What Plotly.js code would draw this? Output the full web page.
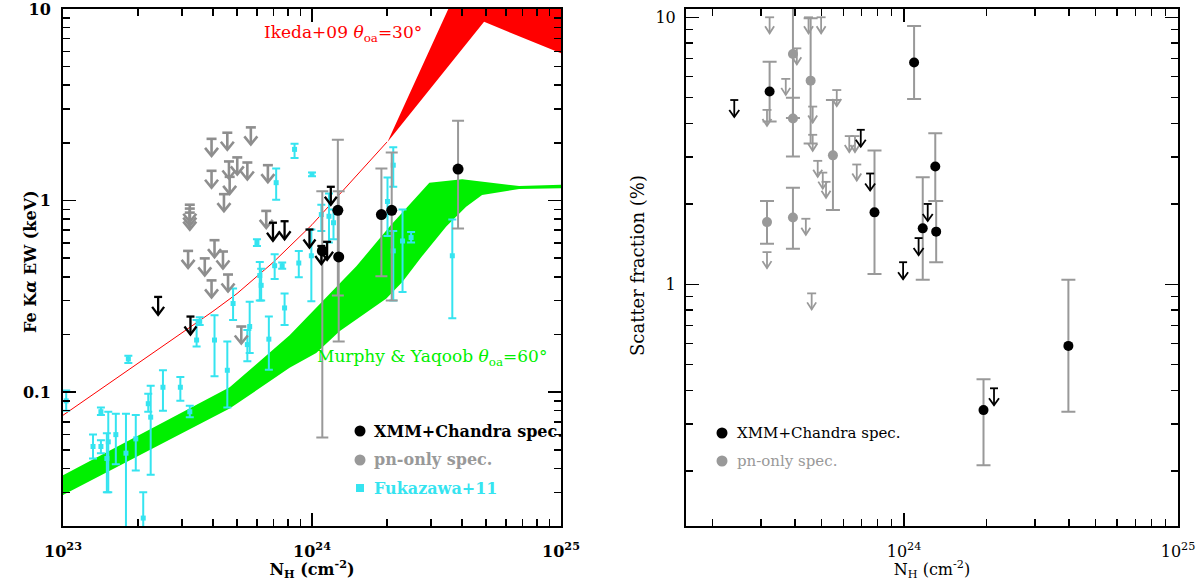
<!DOCTYPE html>
<html>
<head>
<meta charset="utf-8">
<script src="https://cdn.plot.ly/plotly-3.0.1.min.js"></script>
<style>
  html, body { margin: 0; padding: 0; background: #fff; }
  #chart { width: 1200px; height: 581px; }
</style>
</head>
<body>
<div id="chart"></div>
<script>
/* =============================================
   Fe K-alpha EW and scatter fraction vs N_H
   ============================================= */

// ── Left panel: model bands ───────────────────
// Ikeda+09 (theta_oa = 30 deg): thin line, then a band above 2e24
const ikedaLineN  = [1e23, 2e23, 3e23, 4e23, 5e23, 7e23, 1e24, 1.5e24, 2e24];
const ikedaLineEW = [0.0757, 0.141, 0.203, 0.264, 0.327, 0.477, 0.748, 1.33, 2.02];
const ikedaUpN    = [2.01e24, 3.5e24, 5e24, 1e25];
const ikedaUpEW   = [2.02, 10.0, 27, 20];
const ikedaLowN   = [2.01e24, 4.91e24, 1e25];
const ikedaLowEW  = [2.02, 8.57, 5.87];

// Murphy & Yaqoob (theta_oa = 60 deg) band
const myUpN   = [1e23, 4.67e23, 8.13e23, 1.10e24, 1.51e24, 2.05e24, 2.96e24, 4.01e24, 6.79e24, 1e25];
const myUpEW  = [0.0368, 0.106, 0.198, 0.297, 0.455, 0.733, 1.24, 1.29, 1.19, 1.21];
const myLowN  = [1e23, 4.67e23, 8.13e23, 1.04e24, 1.29e24, 1.99e24, 2.31e24, 2.77e24, 3.46e24, 4.16e24, 4.82e24, 6.79e24, 1e25];
const myLowEW = [0.0290, 0.0820, 0.134, 0.160, 0.208, 0.308, 0.377, 0.513, 0.733, 0.929, 1.07, 1.15, 1.16];

// ── Left panel: Fukazawa+11 ───────────────────
const fukN  = [1.03e23, 1.32e23, 1.42e23, 1.42e23, 1.52e23, 1.50e23, 1.63e23, 1.79e23, 1.83e23, 1.96e23,
               2.10e23, 2.20e23, 2.25e23, 2.52e23, 2.96e23, 3.23e23, 3.44e23, 3.54e23, 4.06e23, 4.57e23,
               4.82e23, 5.62e23, 5.50e23, 6.71e23, 7.76e23, 6.17e23, 6.25e23, 6.01e23, 7.08e23, 7.59e23,
               8.85e23, 7.18e23, 8.51e23, 1.00e24, 9.94e23, 1.09e24, 1.17e24, 1.22e24, 2.12e24, 2.01e24,
               2.12e24, 2.31e24, 2.50e24, 3.66e24];
const fukEW = [0.090, 0.052, 0.052, 0.079, 0.055, 0.045, 0.060, 0.048, 0.149, 0.057,
               0.022, 0.087, 0.074, 0.106, 0.106, 0.079, 0.187, 0.234, 0.187, 0.130,
               0.290, 0.220, 0.177, 0.189, 0.275, 0.406, 0.361, 0.604, 0.457, 0.457,
               0.472, 1.24, 1.85, 1.37, 0.515, 0.845, 0.828, 0.766, 1.53, 0.989,
               0.546, 0.615, 0.641, 0.515];
const fukLo = [0.080, 0.045, 0.048, 0.076, 0.030, 0.030, 0.042, 0.015, 0.142, 0.039,
               0.015, 0.079, 0.037, 0.080, 0.090, 0.074, 0.173, 0.224, 0.121, 0.083,
               0.238, 0.160, 0.145, 0.131, 0.224, 0.301, 0.301, 0.579, 0.390, 0.440,
               0.398, 1.01, 1.67, 1.34, 0.298, 0.693, 0.604, 0.628, 1.18, 0.653,
               0.301, 0.333, 0.604, 0.243];
const fukHi = [0.102, 0.060, 0.056, 0.083, 0.079, 0.061, 0.077, 0.077, 0.155, 0.076,
               0.030, 0.098, 0.108, 0.130, 0.120, 0.085, 0.238, 0.246, 0.252, 0.184,
               0.347, 0.296, 0.211, 0.248, 0.327, 0.478, 0.440, 0.628, 0.525, 0.475,
               0.546, 1.47, 1.98, 1.40, 0.706, 0.951, 1.09, 0.897, 1.90, 1.32,
               0.693, 0.897, 0.685, 0.796];

// ── Left panel: this work ─────────────────────
const ewDetN  = [1.27e24, 1.28e24, 1.10e24, 1.90e24, 2.09e24, 3.86e24];
const ewDetEW = [0.889, 0.508, 0.546, 0.845, 0.889, 1.46];
const ewDetLo = [0.319, 0.184, 0.058, 0.403, 0.301, 0.714];
const ewDetHi = [2.08, 1.12, 1.12, 1.47, 1.78, 2.61];

const ewUlN  = [2.41e23, 3.25e23, 6.97e23, 7.76e23, 9.77e23, 1.09e24, 1.15e24, 1.19e24];
const ewUlEW = [0.314, 0.248, 0.766, 0.780, 0.706, 0.579, 0.609, 1.18];

const ewPnUlN  = [3.95e23, 4.57e23, 5.68e23, 3.95e23, 4.64e23, 5.01e23, 5.50e23, 4.67e23, 6.65e23, 4.43e23,
                  3.23e23, 3.23e23, 3.23e23, 3.18e23, 4.06e23, 3.71e23, 4.39e23, 3.95e23, 4.60e23, 6.55e23,
                  5.20e23];
const ewPnUlEW = [2.10, 2.26, 2.41, 1.43, 1.60, 1.68, 1.58, 1.33, 1.53, 1.08,
                  0.951, 0.908, 0.865, 0.546, 0.621, 0.499, 0.542, 0.383, 0.411, 0.883,
                  0.220];

// ── Right panel: scatter fraction (%) ─────────
const sfDetN  = [3.23e23, 7.80e23, 1.088e24, 1.17e24, 1.30e24, 1.31e24, 1.95e24, 3.98e24];
const sfDetF  = [5.27, 1.86, 6.77, 1.62, 2.76, 1.575, 0.338, 0.588];
const sfDetLo = [4.07, 1.093, 4.94, 1.04, 2.05, 1.21, 0.21, 0.333];
const sfDetHi = [6.82, 3.17, 9.28, 2.52, 3.68, 2.05, 0.441, 1.04];

const sfUlN = [2.40e23, 6.95e23, 7.52e23, 1.22e24, 1.13e24, 9.92e23, 2.13e24];
const sfUlF = [4.90, 3.79, 2.60, 2.00, 1.49, 1.21, 0.408];

const sfPnN  = [3.16e23, 3.93e23, 3.93e23, 4.56e23, 5.50e23, 3.93e23];
const sfPnF  = [1.71, 7.29, 4.18, 5.79, 3.04, 1.78];
const sfPnLo = [1.42, 4.2, 3.01, 3.37, 1.90, 1.36];
const sfPnHi = [2.05, 14, 5.0, 9.92, 4.90, 2.30];

const sfPnUlN = [3.23e23, 4.48e23, 4.98e23, 4.06e23, 3.70e23, 3.16e23, 4.64e23, 4.64e23, 5.68e23,
                 6.31e23, 6.62e23, 6.72e23, 4.84e23, 5.05e23, 5.19e23, 3.16e23, 4.38e23, 4.60e23];
const sfPnUlF = [10.0, 10.0, 10.0, 7.65, 5.88, 4.50, 4.63, 3.63, 5.34,
                 3.59, 3.59, 2.81, 2.90, 2.62, 2.42, 1.32, 1.76, 0.925];

// ── Frame geometry ────────────────────────────
const W = 1200, H = 581;
const TOP = 9, BOT = 526;
const LEFT = { x0: 63, x1: 561, xr: [23, 25], yr: [Math.log10(0.02), 1] };
const RIGHT = { x0: 686, x1: 1178, xr: [23.204, 25], yr: [-0.905, 1.031] };
const SERIF = "DejaVu Serif";
const RED = "#ff0000", GREEN = "#00f000", CYAN = "#35e4f0";
const GREY = "#999999", GREY_ARROW = "#8e8e8e";

const px = (x) => x / W;
const py = (y) => 1 - y / H;
const pxPerDex = (p) => ({
  kx: (p.x1 - p.x0) / (p.xr[1] - p.xr[0]),
  ky: (BOT - TOP) / (p.yr[1] - p.yr[0]),
});

// ── Helpers ───────────────────────────────────
function band(upN, upY, lowN, lowY, color, xa, ya) {
  return {
    type: "scatter", mode: "lines", xaxis: xa, yaxis: ya,
    x: upN.concat(lowN.slice().reverse()),
    y: upY.concat(lowY.slice().reverse()),
    fill: "toself", fillcolor: color,
    line: { width: 0, color },
    hoverinfo: "skip", showlegend: false,
  };
}

// downward arrow with a bar on top, sizes in px
function upperLimits(xs, ys, panel, xa, ya, s) {
  const k = pxPerDex(panel);
  const x = [], y = [];
  xs.forEach((xv, i) => {
    const lx = Math.log10(xv), ly = Math.log10(ys[i]);
    const X = (d) => Math.pow(10, lx + d / k.kx);
    const Y = (d) => Math.pow(10, ly - d / k.ky);
    x.push(X(-s.cap), X(s.cap), null, xv, xv, null, X(-s.head), xv, X(s.head), null);
    y.push(ys[i], ys[i], null, ys[i], Y(s.len), null,
           Y(s.len - s.headH), Y(s.len), Y(s.len - s.headH), null);
  });
  return {
    type: "scatter", mode: "lines", xaxis: xa, yaxis: ya, x, y,
    line: { color: s.color, width: s.width },
    hoverinfo: "skip", showlegend: false,
  };
}

function withErrors(xs, ys, lo, hi, xa, ya, marker, err) {
  return {
    type: "scatter", mode: "markers", xaxis: xa, yaxis: ya, x: xs, y: ys,
    marker,
    error_y: {
      type: "data", symmetric: false, visible: true,
      array: ys.map((v, i) => hi[i] - v),
      arrayminus: ys.map((v, i) => v - lo[i]),
      color: err.color, thickness: err.thickness, width: err.width,
    },
    hoverinfo: "x+y", showlegend: false,
  };
}

function minorTicks(d0, d1) {
  const out = [];
  for (let d = d0; d < d1; d++) for (let m = 2; m <= 9; m++) out.push(m * Math.pow(10, d));
  return out;
}

function frameAxis(extra) {
  return Object.assign({
    type: "log", showline: true, linecolor: "#000", linewidth: 2,
    mirror: "allticks", ticks: "inside", ticklen: 13, tickwidth: 1.5,
    tickcolor: "#000", showgrid: false, zeroline: false, tickmode: "array",
    ticklabeloverflow: "allow",
  }, extra);
}

// ── Traces ────────────────────────────────────
const traces = [
  band(myUpN, myUpEW, myLowN, myLowEW, GREEN, "x", "y"),
  band(ikedaUpN, ikedaUpEW, ikedaLowN, ikedaLowEW, RED, "x", "y"),
  {
    type: "scatter", mode: "lines", x: ikedaLineN, y: ikedaLineEW,
    line: { color: RED, width: 1 }, hoverinfo: "skip", showlegend: false,
  },
  withErrors(fukN, fukEW, fukLo, fukHi, "x", "y",
    { symbol: "square", size: 5, color: CYAN },
    { color: CYAN, thickness: 2, width: 4 }),
  upperLimits(ewPnUlN, ewPnUlEW, LEFT, "x", "y",
    { cap: 5, len: 17, head: 6.5, headH: 8, color: GREY_ARROW, width: 2.6 }),
  withErrors(ewDetN, ewDetEW, ewDetLo, ewDetHi, "x", "y",
    { symbol: "circle", size: 11, color: "#000" },
    { color: GREY, thickness: 2, width: 6 }),
  upperLimits(ewUlN, ewUlEW, LEFT, "x", "y",
    { cap: 4, len: 18, head: 6, headH: 8, color: "#000", width: 2.3 }),

  withErrors(sfPnN, sfPnF, sfPnLo, sfPnHi, "x2", "y2",
    { symbol: "circle", size: 10, color: GREY },
    { color: GREY, thickness: 2, width: 7 }),
  upperLimits(sfPnUlN, sfPnUlF, RIGHT, "x2", "y2",
    { cap: 4.5, len: 16, head: 4.5, headH: 7, color: GREY, width: 1.8 }),
  withErrors(sfDetN, sfDetF, sfDetLo, sfDetHi, "x2", "y2",
    { symbol: "circle", size: 10, color: "#000" },
    { color: GREY, thickness: 2, width: 7 }),
  upperLimits(sfUlN, sfUlF, RIGHT, "x2", "y2",
    { cap: 4, len: 17, head: 5, headH: 7, color: "#000", width: 1.8 }),
];

// ── Layout ────────────────────────────────────
const boldFont = { family: SERIF, size: 16, color: "#000", weight: "bold" };
const plainFont = { family: SERIF, size: 16, color: "#000" };
const yDomain = [py(BOT), py(TOP)];

const layout = {
  width: W, height: H,
  margin: { l: 0, r: 0, t: 0, b: 0 },
  paper_bgcolor: "#fff", plot_bgcolor: "#fff",
  showlegend: false,
  xaxis: frameAxis({
    domain: [px(LEFT.x0), px(LEFT.x1)], range: LEFT.xr, anchor: "y",
    tickvals: [1e23, 1e24, 1e25],
    ticktext: ["10<sup>23</sup>", "10<sup>24</sup>", "10<sup>25</sup>"],
    minor: { ticks: "inside", ticklen: 7, tickwidth: 1.5, tickcolor: "#000",
             tickmode: "array", tickvals: minorTicks(23, 25) },
    tickfont: boldFont, ticklabelstandoff: 10,
    title: { text: "N<sub>H</sub> (cm<sup>-2</sup>)", font: boldFont, standoff: 4 },
  }),
  yaxis: frameAxis({
    domain: yDomain, range: LEFT.yr, anchor: "x",
    tickvals: [0.1, 1, 10], ticktext: ["0.1", "1", "10"],
    minor: { ticks: "inside", ticklen: 7, tickwidth: 1.5, tickcolor: "#000",
             tickmode: "array", tickvals: minorTicks(-2, 1) },
    tickfont: boldFont, ticklabelstandoff: 7,
  }),
  xaxis2: frameAxis({
    domain: [px(RIGHT.x0), px(RIGHT.x1)], range: RIGHT.xr, anchor: "y2",
    tickvals: [1e24, 1e25],
    ticktext: ["10<sup>24</sup>", "10<sup>25</sup>"],
    minor: { ticks: "inside", ticklen: 7, tickwidth: 1.5, tickcolor: "#000",
             tickmode: "array", tickvals: minorTicks(23, 25) },
    tickfont: plainFont, ticklabelstandoff: 10,
    title: { text: "N<sub>H</sub> (cm<sup>-2</sup>)", font: plainFont, standoff: 4 },
  }),
  yaxis2: frameAxis({
    domain: yDomain, range: RIGHT.yr, anchor: "x2",
    tickvals: [1, 10], ticktext: ["1", "10"],
    minor: { ticks: "inside", ticklen: 7, tickwidth: 1.5, tickcolor: "#000",
             tickmode: "array", tickvals: minorTicks(-1, 1) },
    tickfont: plainFont, ticklabelstandoff: 5,
  }),
  annotations: [
    // y axis titles
    { text: "Fe K<i>α</i> EW (keV)", xref: "paper", yref: "paper",
      x: px(30), y: py(262), xanchor: "center", yanchor: "middle",
      textangle: -90, showarrow: false, font: boldFont },
    { text: "Scatter fraction (%)", xref: "paper", yref: "paper",
      x: px(638), y: py(266), xanchor: "center", yanchor: "middle",
      textangle: -90, showarrow: false,
      font: { family: SERIF, size: 18, color: "#000" } },
    // model labels
    { text: "Ikeda+09 <i>θ</i><sub>oa</sub>=30°", xref: "paper", yref: "paper",
      x: px(262), y: py(33), xanchor: "left", yanchor: "middle", showarrow: false,
      font: { family: SERIF, size: 17, color: RED } },
    { text: "Murphy & Yaqoob <i>θ</i><sub>oa</sub>=60°", xref: "paper", yref: "paper",
      x: px(315), y: py(357), xanchor: "left", yanchor: "middle", showarrow: false,
      font: { family: SERIF, size: 17, color: GREEN } },
    // left legend
    { text: "XMM+Chandra spec.", xref: "paper", yref: "paper",
      x: px(372), y: py(431), xanchor: "left", yanchor: "middle", showarrow: false, font: boldFont },
    { text: "pn-only spec.", xref: "paper", yref: "paper",
      x: px(372), y: py(460), xanchor: "left", yanchor: "middle", showarrow: false,
      font: Object.assign({}, boldFont, { color: GREY }) },
    { text: "Fukazawa+11", xref: "paper", yref: "paper",
      x: px(372), y: py(488), xanchor: "left", yanchor: "middle", showarrow: false,
      font: Object.assign({}, boldFont, { color: CYAN }) },
    // right legend
    { text: "XMM+Chandra spec.", xref: "paper", yref: "paper",
      x: px(735), y: py(433), xanchor: "left", yanchor: "middle", showarrow: false,
      font: { family: SERIF, size: 15, color: "#000" } },
    { text: "pn-only spec.", xref: "paper", yref: "paper",
      x: px(735), y: py(461), xanchor: "left", yanchor: "middle", showarrow: false,
      font: { family: SERIF, size: 15, color: GREY } },
  ],
  shapes: [
    { type: "circle", xref: "paper", yref: "paper", xsizemode: "pixel", ysizemode: "pixel",
      xanchor: px(360), yanchor: py(431), x0: -5.5, x1: 5.5, y0: -5.5, y1: 5.5,
      fillcolor: "#000", line: { width: 0 } },
    { type: "circle", xref: "paper", yref: "paper", xsizemode: "pixel", ysizemode: "pixel",
      xanchor: px(360), yanchor: py(460), x0: -5.5, x1: 5.5, y0: -5.5, y1: 5.5,
      fillcolor: GREY, line: { width: 0 } },
    { type: "rect", xref: "paper", yref: "paper", xsizemode: "pixel", ysizemode: "pixel",
      xanchor: px(360), yanchor: py(488), x0: -4, x1: 4, y0: -4, y1: 4,
      fillcolor: CYAN, line: { width: 0 } },
    { type: "circle", xref: "paper", yref: "paper", xsizemode: "pixel", ysizemode: "pixel",
      xanchor: px(722), yanchor: py(433), x0: -5.5, x1: 5.5, y0: -5.5, y1: 5.5,
      fillcolor: "#000", line: { width: 0 } },
    { type: "circle", xref: "paper", yref: "paper", xsizemode: "pixel", ysizemode: "pixel",
      xanchor: px(722), yanchor: py(461), x0: -5.5, x1: 5.5, y0: -5.5, y1: 5.5,
      fillcolor: GREY, line: { width: 0 } },
  ],
};

Plotly.newPlot("chart", traces, layout, { staticPlot: true, displayModeBar: false });
</script>
</body>
</html>
